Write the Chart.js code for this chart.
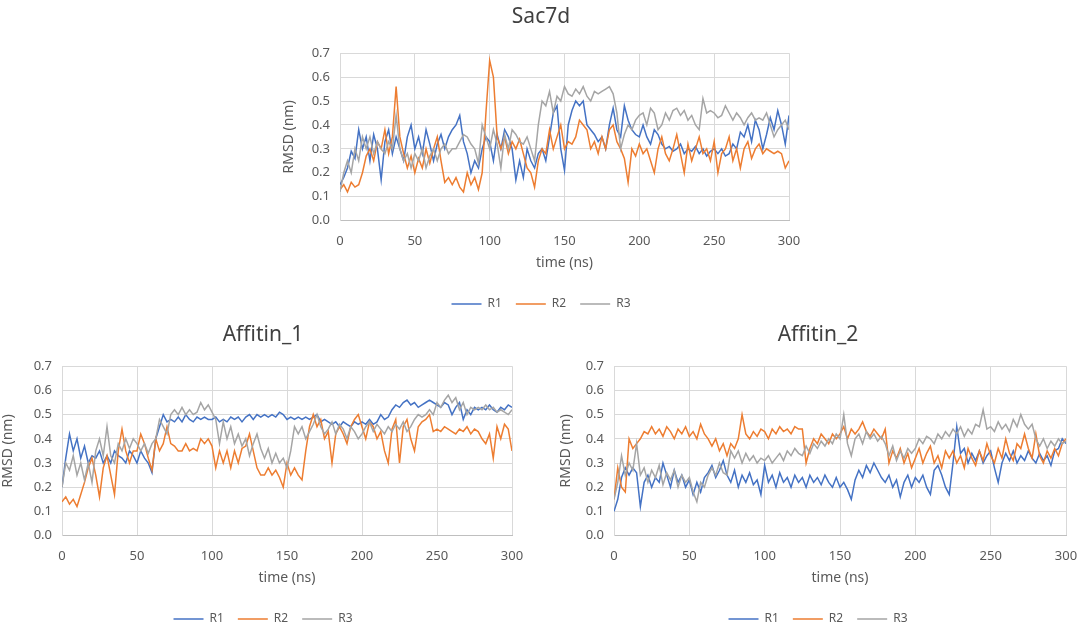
<!DOCTYPE html>
<html>
<head>
<meta charset="utf-8">
<script src="https://cdn.jsdelivr.net/npm/chart.js@4.4.1/dist/chart.umd.min.js"></script>
<style>
  html, body { margin: 0; padding: 0; background: #fff; overflow: hidden; }
  body { width: 1078px; height: 622px; position: relative; }
  canvas { position: absolute; }
  #c1 { left: 281px; top: 0px; }
  #c2 { left: 0px; top: 318px; }
  #c3 { left: 558px; top: 318px; }
</style>
</head>
<body>
<canvas id="c1" width="520" height="320"></canvas>
<canvas id="c2" width="526" height="317"></canvas>
<canvas id="c3" width="520" height="317"></canvas>
<script>
// time axis: one sample every 2.5 ns, 0..300
const STEP = 2.5;
const time = Array.from({ length: 121 }, (_, i) => i * STEP);
const seriesNames = ['R1', 'R2', 'R3'];
const seriesColors = ['#4472C4', '#ED7D31', '#A5A5A5'];

// Sac7d
const sac7dR1 = [
  0.15, 0.18, 0.22, 0.29, 0.26, 0.38, 0.30, 0.35, 0.25, 0.36,
  0.30, 0.17, 0.33, 0.38, 0.28, 0.35, 0.30, 0.25, 0.35, 0.40,
  0.30, 0.35, 0.28, 0.38, 0.32, 0.25, 0.32, 0.36, 0.30, 0.35,
  0.38, 0.40, 0.44, 0.33, 0.28, 0.20, 0.25, 0.22, 0.30, 0.35,
  0.33, 0.25, 0.36, 0.30, 0.38, 0.35, 0.30, 0.17, 0.25, 0.18,
  0.30, 0.25, 0.22, 0.28, 0.30, 0.25, 0.35, 0.45, 0.48, 0.30,
  0.21, 0.40, 0.46, 0.50, 0.48, 0.50, 0.40, 0.38, 0.36, 0.33,
  0.35, 0.30, 0.40, 0.47, 0.38, 0.35, 0.48, 0.42, 0.38, 0.36,
  0.35, 0.40, 0.35, 0.32, 0.38, 0.36, 0.32, 0.30, 0.31, 0.29,
  0.30, 0.32, 0.28, 0.30, 0.29, 0.31, 0.28, 0.30, 0.27, 0.29,
  0.30, 0.28, 0.30, 0.27, 0.28, 0.32, 0.30, 0.37, 0.35, 0.40,
  0.33, 0.42, 0.38, 0.30, 0.36, 0.43, 0.38, 0.46, 0.40, 0.32,
  0.44
];
const sac7dR2 = [
  0.13, 0.15, 0.12, 0.16, 0.14, 0.15, 0.20, 0.27, 0.30, 0.25,
  0.33, 0.30, 0.38, 0.28, 0.35, 0.56, 0.35, 0.28, 0.22, 0.27,
  0.20, 0.26, 0.22, 0.30, 0.24, 0.30, 0.35, 0.25, 0.16, 0.18,
  0.15, 0.18, 0.14, 0.12, 0.20, 0.15, 0.18, 0.13, 0.20, 0.45,
  0.67, 0.60, 0.35, 0.30, 0.35, 0.28, 0.33, 0.30, 0.34, 0.28,
  0.22, 0.20, 0.14, 0.25, 0.30, 0.28, 0.38, 0.30, 0.35, 0.40,
  0.30, 0.33, 0.32, 0.35, 0.42, 0.40, 0.38, 0.30, 0.33, 0.28,
  0.35, 0.30, 0.38, 0.40, 0.33, 0.30, 0.26, 0.16, 0.30, 0.27,
  0.32, 0.28, 0.30, 0.25, 0.20, 0.30, 0.35, 0.28, 0.25, 0.30,
  0.36, 0.28, 0.20, 0.32, 0.25, 0.30, 0.35, 0.28, 0.30, 0.25,
  0.33, 0.20, 0.28, 0.30, 0.35, 0.25, 0.30, 0.22, 0.30, 0.33,
  0.26, 0.30, 0.32, 0.28, 0.30, 0.29, 0.28, 0.29, 0.28, 0.22,
  0.25
];
const sac7dR3 = [
  0.12, 0.20, 0.25, 0.20, 0.30, 0.25, 0.35, 0.30, 0.35, 0.28,
  0.33, 0.30, 0.28, 0.33, 0.30, 0.44, 0.30, 0.25, 0.28, 0.22,
  0.28, 0.25, 0.30, 0.22, 0.27, 0.30, 0.25, 0.30, 0.32, 0.28,
  0.30, 0.30, 0.33, 0.36, 0.35, 0.32, 0.30, 0.24, 0.40, 0.35,
  0.30, 0.38, 0.32, 0.22, 0.36, 0.30, 0.38, 0.36, 0.33, 0.32,
  0.35, 0.30, 0.25, 0.40, 0.50, 0.48, 0.54, 0.45, 0.52, 0.50,
  0.56, 0.53, 0.52, 0.55, 0.53, 0.56, 0.52, 0.50, 0.54, 0.53,
  0.54, 0.55, 0.56, 0.53, 0.45, 0.30, 0.36, 0.40, 0.38, 0.42,
  0.44, 0.45, 0.40, 0.47, 0.45, 0.38, 0.40, 0.45, 0.42, 0.46,
  0.47, 0.44, 0.46, 0.42, 0.44, 0.40, 0.38, 0.51, 0.45, 0.46,
  0.45, 0.43, 0.44, 0.48, 0.45, 0.42, 0.45, 0.43, 0.40, 0.43,
  0.45, 0.42, 0.43, 0.42, 0.45, 0.40, 0.35, 0.38, 0.40, 0.42,
  0.38
];

// Affitin_1
const aff1R1 = [
  0.20, 0.32, 0.42, 0.35, 0.40, 0.32, 0.37, 0.30, 0.33, 0.32,
  0.35, 0.30, 0.33, 0.30, 0.35, 0.33, 0.32, 0.30, 0.35, 0.33,
  0.30, 0.35, 0.32, 0.30, 0.26, 0.40, 0.45, 0.50, 0.47, 0.48,
  0.47, 0.49, 0.47, 0.50, 0.48, 0.47, 0.49, 0.48, 0.49, 0.48,
  0.48, 0.49, 0.47, 0.48, 0.47, 0.49, 0.48, 0.49, 0.47, 0.49,
  0.50, 0.48, 0.50, 0.49, 0.50, 0.49, 0.50, 0.49, 0.51, 0.50,
  0.48, 0.49, 0.48, 0.49, 0.48, 0.49, 0.48, 0.49, 0.50, 0.47,
  0.48, 0.47, 0.46, 0.47, 0.45, 0.47, 0.46, 0.45, 0.47, 0.46,
  0.47, 0.46, 0.48, 0.46, 0.47, 0.50, 0.48, 0.49, 0.52, 0.54,
  0.53, 0.55, 0.56, 0.54, 0.55, 0.53, 0.54, 0.55, 0.56, 0.55,
  0.54, 0.53, 0.55, 0.54, 0.50, 0.53, 0.55, 0.48, 0.52, 0.50,
  0.53, 0.52, 0.53, 0.52, 0.54, 0.52, 0.51, 0.53, 0.52, 0.54,
  0.53
];
const aff1R2 = [
  0.14, 0.16, 0.13, 0.15, 0.12, 0.17, 0.22, 0.28, 0.32, 0.25,
  0.16, 0.28, 0.33, 0.25, 0.17, 0.35, 0.44, 0.35, 0.30, 0.35,
  0.35, 0.42, 0.38, 0.32, 0.27, 0.40, 0.35, 0.38, 0.45, 0.38,
  0.37, 0.35, 0.35, 0.38, 0.35, 0.36, 0.35, 0.40, 0.38, 0.40,
  0.37, 0.28, 0.35, 0.30, 0.35, 0.28, 0.35, 0.30, 0.36, 0.37,
  0.42, 0.35, 0.28, 0.25, 0.25, 0.28, 0.25, 0.27, 0.24, 0.20,
  0.30, 0.25, 0.28, 0.25, 0.23, 0.35, 0.45, 0.50, 0.45, 0.48,
  0.40, 0.43, 0.30, 0.42, 0.45, 0.42, 0.38, 0.45, 0.48, 0.50,
  0.45, 0.40, 0.47, 0.45, 0.40, 0.43, 0.35, 0.30, 0.44, 0.48,
  0.30, 0.45, 0.48, 0.40, 0.35, 0.45, 0.47, 0.48, 0.50, 0.43,
  0.44, 0.43, 0.45, 0.44, 0.43, 0.42, 0.44, 0.43, 0.45, 0.42,
  0.44, 0.43, 0.40, 0.38, 0.42, 0.32, 0.45, 0.40, 0.46, 0.44,
  0.35
];
const aff1R3 = [
  0.20, 0.30, 0.27, 0.33, 0.25, 0.30, 0.23, 0.30, 0.22, 0.35,
  0.40, 0.33, 0.45, 0.33, 0.30, 0.38, 0.35, 0.40, 0.36, 0.40,
  0.38, 0.35, 0.38, 0.34, 0.38, 0.40, 0.48, 0.45, 0.42, 0.50,
  0.52, 0.50, 0.53, 0.50, 0.52, 0.50, 0.51, 0.55, 0.52, 0.54,
  0.51, 0.48, 0.38, 0.47, 0.40, 0.45, 0.38, 0.42, 0.37, 0.40,
  0.33, 0.38, 0.42, 0.36, 0.32, 0.36, 0.30, 0.34, 0.30, 0.32,
  0.28, 0.35, 0.45, 0.42, 0.45, 0.40, 0.43, 0.46, 0.50, 0.45,
  0.42, 0.44, 0.47, 0.42, 0.46, 0.44, 0.40, 0.45, 0.43, 0.40,
  0.42, 0.45, 0.47, 0.43, 0.46, 0.44, 0.42, 0.45, 0.43, 0.46,
  0.44, 0.47, 0.43, 0.45, 0.48, 0.50, 0.49, 0.50, 0.52, 0.50,
  0.55, 0.53, 0.56, 0.58, 0.55, 0.57, 0.52, 0.55, 0.50, 0.53,
  0.52, 0.53, 0.52, 0.54, 0.52, 0.53, 0.51, 0.52, 0.51, 0.50,
  0.52
];

// Affitin_2
const aff2R1 = [
  0.10, 0.15, 0.24, 0.28, 0.25, 0.28, 0.26, 0.12, 0.22, 0.25,
  0.20, 0.24, 0.22, 0.30, 0.25, 0.20, 0.27, 0.22, 0.25, 0.20,
  0.23, 0.17, 0.22, 0.18, 0.24, 0.26, 0.29, 0.24, 0.27, 0.31,
  0.25, 0.22, 0.27, 0.20, 0.25, 0.22, 0.26, 0.21, 0.23, 0.17,
  0.29, 0.22, 0.25, 0.20, 0.26, 0.22, 0.24, 0.20, 0.25, 0.22,
  0.24, 0.20, 0.25, 0.22, 0.24, 0.21, 0.25, 0.22, 0.20, 0.24,
  0.20, 0.22, 0.19, 0.15, 0.23, 0.27, 0.24, 0.29, 0.26, 0.30,
  0.27, 0.24, 0.22, 0.25, 0.20, 0.23, 0.16, 0.22, 0.25, 0.20,
  0.24, 0.22, 0.25, 0.20, 0.17, 0.27, 0.29, 0.25, 0.20, 0.17,
  0.30, 0.45, 0.34, 0.36, 0.30, 0.34, 0.31, 0.35, 0.30, 0.33,
  0.35, 0.28, 0.22, 0.30, 0.34, 0.31, 0.35, 0.30, 0.33, 0.31,
  0.35, 0.32, 0.30, 0.34, 0.31, 0.33, 0.29, 0.35, 0.36, 0.40,
  0.38
];
const aff2R2 = [
  0.15, 0.28, 0.20, 0.18, 0.40, 0.36, 0.38, 0.40, 0.43, 0.42,
  0.45, 0.42, 0.44, 0.41, 0.45, 0.43, 0.40, 0.44, 0.42, 0.45,
  0.41, 0.43, 0.40, 0.46, 0.42, 0.40, 0.37, 0.40, 0.35, 0.38,
  0.33, 0.38, 0.36, 0.40, 0.50, 0.42, 0.40, 0.43, 0.41, 0.44,
  0.43, 0.40, 0.44, 0.42, 0.45, 0.43, 0.44, 0.42, 0.45, 0.44,
  0.44, 0.30, 0.36, 0.40, 0.38, 0.42, 0.40, 0.38, 0.42, 0.40,
  0.42, 0.45, 0.40, 0.44, 0.42, 0.44, 0.47, 0.43, 0.41, 0.44,
  0.42, 0.40, 0.44, 0.30, 0.35, 0.32, 0.36, 0.30, 0.34, 0.28,
  0.32, 0.36, 0.30, 0.34, 0.37, 0.30, 0.33, 0.28, 0.35, 0.32,
  0.35, 0.30, 0.33, 0.28, 0.36, 0.32, 0.29, 0.35, 0.31, 0.38,
  0.33, 0.30, 0.36, 0.32, 0.40, 0.34, 0.31, 0.38, 0.36, 0.42,
  0.36, 0.32, 0.42, 0.33, 0.30, 0.35, 0.32, 0.36, 0.33, 0.38,
  0.40
];
const aff2R3 = [
  0.15, 0.22, 0.33, 0.25, 0.30, 0.27, 0.38, 0.25, 0.28, 0.22,
  0.27, 0.24, 0.29, 0.21, 0.26, 0.23, 0.27, 0.20, 0.25, 0.22,
  0.24, 0.18, 0.14, 0.22, 0.20, 0.25, 0.28, 0.25, 0.30, 0.26,
  0.25, 0.35, 0.32, 0.35, 0.30, 0.34, 0.31, 0.33, 0.30, 0.32,
  0.31, 0.33, 0.30, 0.32, 0.34, 0.31, 0.35, 0.33, 0.36, 0.34,
  0.33, 0.37, 0.34, 0.38, 0.36, 0.39, 0.37, 0.40, 0.38, 0.42,
  0.40, 0.50, 0.38, 0.33, 0.40, 0.42, 0.38, 0.43, 0.40, 0.42,
  0.39, 0.41, 0.38, 0.33, 0.37, 0.31, 0.35, 0.32, 0.36, 0.34,
  0.36, 0.40, 0.38, 0.41, 0.40, 0.38, 0.42, 0.40, 0.43, 0.41,
  0.44, 0.42, 0.45, 0.41, 0.44, 0.42, 0.46, 0.45, 0.52, 0.44,
  0.45, 0.43, 0.47, 0.44, 0.46, 0.43, 0.48, 0.45, 0.50, 0.46,
  0.44, 0.46, 0.40, 0.37, 0.40, 0.36, 0.39, 0.37, 0.40, 0.38,
  0.39
];

Chart.defaults.font.family = '"Noto Sans", "DejaVu Sans", sans-serif';
Chart.defaults.color = '#595959';

function makeChart(id, title, values, yAxisWidth, rightPad, titleGap) {
  const ctx = document.getElementById(id).getContext('2d');
  return new Chart(ctx, {
    type: 'line',
    data: {
      datasets: values.map((vals, i) => ({
        label: seriesNames[i],
        data: vals.map((v, k) => ({ x: time[k], y: v })),
        borderColor: seriesColors[i],
        backgroundColor: seriesColors[i],
        borderWidth: 1.5,
        pointRadius: 0,
        tension: 0,
        order: 3 - i
      }))
    },
    options: {
      responsive: false,
      animation: false,
      layout: { padding: 0 },
      plugins: {
        title: {
          display: true,
          text: title,
          color: '#404040',
          font: { size: 21, weight: 'normal' },
          padding: { top: 4, bottom: titleGap }
        },
        legend: {
          position: 'bottom',
          labels: {
            usePointStyle: true,
            pointStyle: 'line',
            pointStyleWidth: 30,
            boxHeight: 12,
            padding: 14,
            font: { size: 12 },
            color: '#595959',
            sort: (a, b) => a.datasetIndex - b.datasetIndex
          }
        },
        tooltip: { enabled: false }
      },
      scales: {
        x: {
          type: 'linear',
          min: 0,
          max: 300,
          ticks: { stepSize: 50, padding: 13, font: { size: 13 } },
          grid: { color: '#d9d9d9', drawTicks: false },
          border: { color: '#bfbfbf' },
          title: { display: true, text: 'time (ns)', font: { size: 14 }, padding: { top: -8, bottom: 13 } },
          // room on the right for the last tick label is set per chart
          afterFit: s => { s.paddingRight = rightPad; }
        },
        y: {
          min: 0,
          max: 0.7,
          ticks: { stepSize: 0.1, padding: 10, font: { size: 13 }, callback: v => v.toFixed(1) },
          grid: { color: '#d9d9d9', drawTicks: false },
          border: { color: '#d9d9d9' },
          title: { display: true, text: 'RMSD (nm)', font: { size: 14 }, padding: { top: 0, bottom: 4 } },
          afterFit: s => { s.width = yAxisWidth; }
        }
      }
    }
  });
}

makeChart('c1', 'Sac7d', [sac7dR1, sac7dR2, sac7dR3], 59, 12, 24);
makeChart('c2', 'Affitin_1', [aff1R1, aff1R2, aff1R3], 62, 14, 19);
makeChart('c3', 'Affitin_2', [aff2R1, aff2R2, aff2R3], 56, 12, 19);
</script>
</body>
</html>
